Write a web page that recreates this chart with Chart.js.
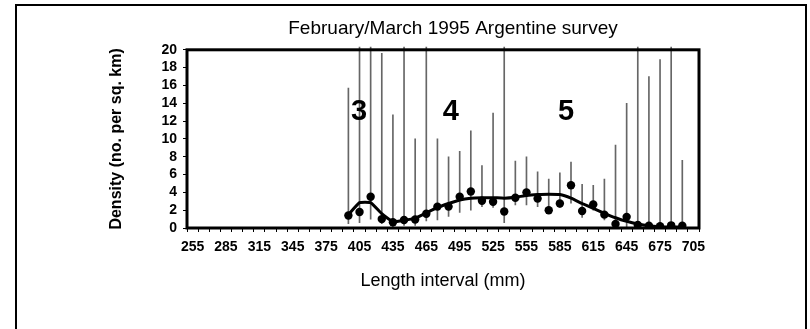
<!DOCTYPE html>
<html>
<head>
<meta charset="utf-8">
<title>February/March 1995 Argentine survey</title>
<script src="https://cdn.jsdelivr.net/npm/chart.js@4.4.0/dist/chart.umd.min.js"></script>
<style>
  html, body { margin: 0; padding: 0; background: #fff; }
  #wrap { position: relative; width: 810px; height: 329px; overflow: hidden; }
  #frame { position: absolute; left: 15px; top: 4px; width: 788px; height: 400px; border: 2px solid #000; }
  canvas { position: absolute; left: 0; top: 0; }
</style>
</head>
<body>
<div id="wrap">
  <div id="frame"></div>
  <canvas id="surveyChart" width="810" height="329"></canvas>
</div>
<script>
// length classes (mm), one per 10 mm bin
const lengths = ['255', '265', '275', '285', '295', '305', '315', '325', '335', '345',
                 '355', '365', '375', '385', '395', '405', '415', '425', '435', '445',
                 '455', '465', '475', '485', '495', '505', '515', '525', '535', '545',
                 '555', '565', '575', '585', '595', '605', '615', '625', '635', '645',
                 '655', '665', '675', '685', '695', '705'];

// observed density per length class
const density = [null, null, null, null, null, null, null, null, null, null, null, null, null, null,
                 1.4, 1.8, 3.5, 1.0, 0.65, 0.9, 0.95, 1.6, 2.4, 2.4, 3.5, 4.1, 3.05, 2.95, 1.85, 3.4,
                 4.0, 3.3, 2.0, 2.75, 4.8, 1.9, 2.65, 1.5, 0.45, 1.25, 0.35, 0.25, 0.2, 0.3, 0.25, null];

// error bar ends (values above 20 run off the top of the plot)
const lower = [null, null, null, null, null, null, null, null, null, null, null, null, null, null,
               0.5, 0.6, 1.0, 0.5, 0, 0.3, 0.3, 0.8, 0.9, 1.3, 1.75, 2.0, 2.4, 2.3, 0.6, 2.6,
               2.6, 2.4, 1.7, 2.3, 2.8, 1.2, 2.0, 0.9, 0, 0, 0, 0, 0, 0, 0, null];
const upper = [null, null, null, null, null, null, null, null, null, null, null, null, null, null,
               15.7, 25, 25, 19.6, 12.7, 25, 10.0, 25, 10.0, 8.0, 8.6, 10.9, 7.0, 12.9, 25, 7.5,
               8.0, 6.3, 5.5, 6.2, 7.4, 4.9, 4.8, 5.5, 9.3, 14.0, 25, 17.0, 18.9, 25, 7.6, null];

// fitted mixture curve
const fitted = [null, null, null, null, null, null, null, null, null, null, null, null, null, null,
                1.5, 2.85, 2.85, 1.6, 0.7, 0.85, 1.1, 1.7, 2.3, 2.75, 3.15, 3.35, 3.4, 3.4, 3.35, 3.45,
                3.65, 3.75, 3.8, 3.75, 3.35, 2.75, 2.2, 1.65, 1.15, 0.75, 0.45, 0.25, 0.15, 0.1, 0.1, null];

// age class labels
const cohortNames = ['3', '4', '5'];
const cohortLength = [404.5, 487, 590.5];
const cohortDensity = [13, 13, 13];

const errorBars = lower.map((lo, i) => lo === null ? null : [lo, upper[i]]);

Chart.defaults.font.family = "'Liberation Sans', Arial, sans-serif";
Chart.defaults.color = '#000';

// heavy box around the plot area
const plotFrame = {
    id: 'plotFrame',
    afterDatasetsDraw(chart) {
        const {ctx, chartArea: a} = chart;
        ctx.save();
        ctx.strokeStyle = '#000';
        ctx.lineWidth = 3;
        ctx.strokeRect(a.left, a.top, a.right - a.left, a.bottom - a.top);
        ctx.restore();
    }
};

const cohortLabels = {
    id: 'cohortLabels',
    afterDatasetsDraw(chart) {
        const {ctx, scales: {x, y}} = chart;
        ctx.save();
        ctx.font = "bold 29px 'Liberation Sans', Arial, sans-serif";
        ctx.fillStyle = '#000';
        ctx.textAlign = 'center';
        ctx.textBaseline = 'middle';
        cohortNames.forEach((name, i) => {
            const idx = (cohortLength[i] - Number(lengths[0])) / 10;
            ctx.fillText(name, x.getPixelForValue(idx), y.getPixelForValue(cohortDensity[i]));
        });
        ctx.restore();
    }
};

const ctx = document.getElementById('surveyChart').getContext('2d');

new Chart(ctx, {
    data: {
        labels: lengths,
        datasets: [
            {
                type: 'line',
                label: 'Observed',
                data: density,
                showLine: false,
                pointRadius: 4.2,
                pointBackgroundColor: '#000',
                pointBorderWidth: 0,
                order: 0
            },
            {
                type: 'line',
                label: 'Fitted',
                data: fitted,
                borderColor: '#000',
                borderWidth: 3,
                pointRadius: 0,
                tension: 0.12,
                order: 1
            },
            {
                type: 'bar',
                label: 'Range',
                data: errorBars,
                backgroundColor: '#666',
                borderWidth: 0,
                barThickness: 1,
                clip: {left: 0, top: 3, right: 0, bottom: 0},
                order: 2
            }
        ]
    },
    options: {
        responsive: false,
        animation: false,
        devicePixelRatio: 1,
        layout: {
            padding: {top: 10, left: 100, right: 4, bottom: 37}
        },
        plugins: {
            legend: {display: false},
            tooltip: {enabled: false},
            title: {
                display: true,
                text: 'February/March 1995 Argentine survey',
                font: {size: 19, weight: 'normal'},
                padding: {top: 7, bottom: 10}
            }
        },
        scales: {
            x: {
                offset: true,
                grid: {drawOnChartArea: false, tickLength: 4, offset: true, color: '#000'},
                border: {display: false},
                ticks: {
                    autoSkip: false,
                    maxRotation: 0,
                    padding: 7,
                    font: {size: 14, weight: 'bold'},
                    callback: function(value, index) {
                        return index % 3 === 0 ? this.getLabelForValue(value) : '';
                    }
                },
                title: {
                    display: true,
                    text: 'Length interval (mm)',
                    font: {size: 18},
                    padding: {top: 0, bottom: 0}
                },
                afterFit: scale => { scale.height = 64; }
            },
            y: {
                min: 0,
                max: 20,
                ticks: {stepSize: 2, autoSkip: false, padding: 6, font: {size: 14, weight: 'bold'}},
                grid: {drawOnChartArea: false, tickLength: 4, color: '#000'},
                border: {display: false},
                title: {
                    display: true,
                    text: 'Density (no. per sq. km)',
                    font: {size: 16, weight: 'bold'},
                    padding: {top: 7, bottom: 0}
                },
                afterFit: scale => { scale.width = 87; }
            },
            y2: {
                position: 'right',
                ticks: {display: false},
                grid: {display: false},
                border: {display: false},
                afterFit: scale => { scale.width = 107; }
            }
        }
    },
    plugins: [plotFrame, cohortLabels]
});
</script>
</body>
</html>
